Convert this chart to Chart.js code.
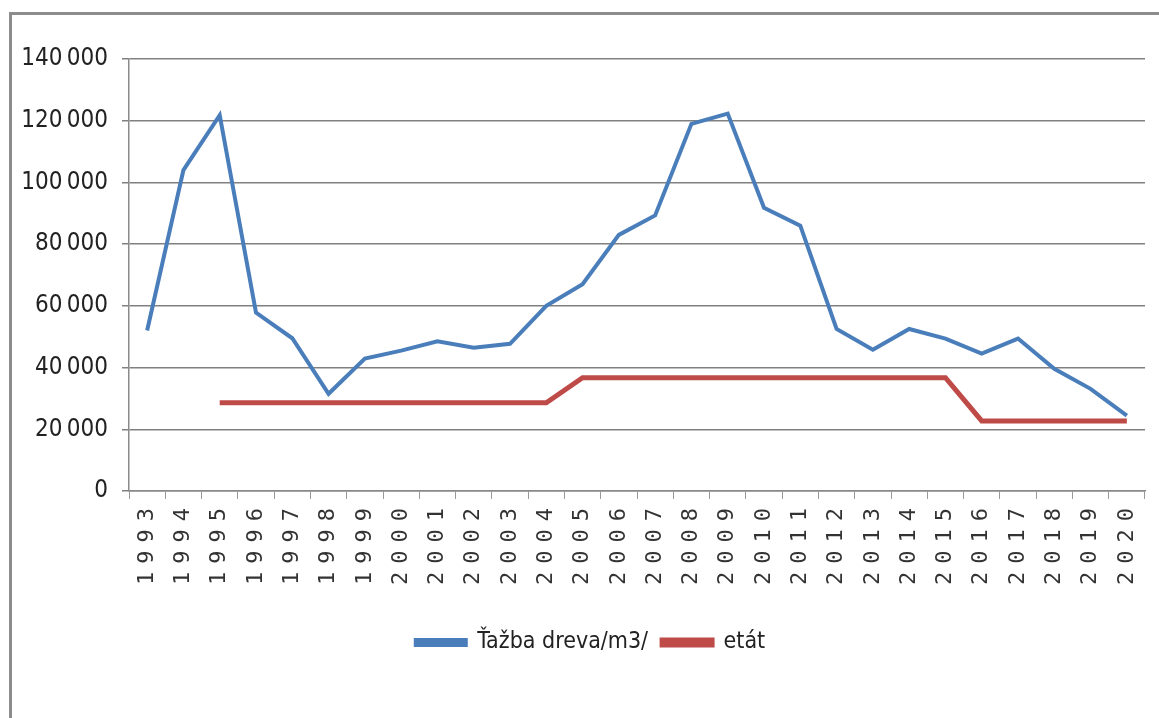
<!DOCTYPE html>
<html>
<head>
<meta charset="utf-8">
<script src="https://cdn.jsdelivr.net/npm/chart.js@4/dist/chart.umd.min.js"></script>
<style>
  html, body { margin: 0; padding: 0; background: #ffffff; overflow: hidden; }
  #frame { position: absolute; left: 9px; top: 12px; width: 1300px; height: 900px; border: 3px solid #8c8c8c; }
  #wrap { position: absolute; left: 0; top: 0; width: 1159px; height: 718px; }
</style>
</head>
<body>
<div id="frame"></div>
<div id="wrap"><canvas id="c" width="1159" height="718"></canvas></div>
<script>
const years = ['1993','1994','1995','1996','1997','1998','1999','2000','2001','2002','2003','2004','2005','2006','2007','2008','2009','2010','2011','2012','2013','2014','2015','2016','2017','2018','2019','2020'];
const tazbaDreva = [52000,104000,121800,57800,49500,31500,42900,45500,48500,46400,47700,60000,67000,83000,89300,119000,122300,91800,86000,52500,45800,52500,49400,44500,49400,39600,33100,24400];
const etat = [null,null,28600,28600,28600,28600,28600,28600,28600,28600,28600,28600,36700,36700,36700,36700,36700,36700,36700,36700,36700,36700,36700,22700,22700,22700,22700,22700];
const seriesNames = ['Ťažba dreva/m3/', 'etát'];
const yTicks = [0,20000,40000,60000,80000,100000,120000,140000];

const narrow = "'Liberation Sans Narrow', 'DejaVu Sans Condensed', 'Liberation Sans', sans-serif";

const spacingPlugin = {
  id: 'xLetterSpacing',
  afterLayout(chart) {
    const sy = chart.scales.y;
    sy._computeLabelArea = function() { return undefined; };
    const sx = chart.scales.x;
    if (sx._spaced) return;
    sx._spaced = true;
    const orig = sx.drawLabels.bind(sx);
    sx.drawLabels = function(area) {
      const ctx = chart.ctx;
      ctx.save();
      try { ctx.letterSpacing = '8px'; } catch (e) {}
      orig(area);
      ctx.restore();
    };
  }
};

new Chart(document.getElementById('c'), {
  type: 'line',
  data: {
    labels: years,
    datasets: [
      { label: seriesNames[0], data: tazbaDreva, borderColor: '#4a7ebb', backgroundColor: '#4a7ebb', borderWidth: 4, pointRadius: 0, tension: 0, spanGaps: false },
      { label: seriesNames[1], data: etat, borderColor: '#be4b48', backgroundColor: '#be4b48', borderWidth: 5, pointRadius: 0, tension: 0, spanGaps: false }
    ]
  },
  options: {
    responsive: false,
    animation: false,
    devicePixelRatio: 1,
    layout: { padding: { left: 36, right: 14, top: 59, bottom: 54 } },
    plugins: {
      legend: {
        position: 'bottom',
        labels: {
          boxWidth: 50, boxHeight: 5,
          font: { family: narrow, size: 23 },
          color: '#222222',
          padding: 14
        }
      },
      tooltip: { enabled: false }
    },
    scales: {
      x: {
        type: 'category',
        offset: true,
        afterFit(scale) { scale.height = 126; },
        grid: { offset: true, drawOnChartArea: false, drawTicks: true, tickLength: 8, color: '#9a9a9a', lineWidth: 1 },
        border: { display: true, color: '#8a8a8a', width: 1.5 },
        ticks: {
          autoSkip: false, minRotation: 90, maxRotation: 90, padding: 1,
          font: { family: "'DejaVu Sans Mono', 'Liberation Mono', monospace", size: 22 },
          color: '#333333'
        }
      },
      y: {
        min: 0, max: 140000,
        afterFit(scale) { scale.width = 93; },
        afterBuildTicks(scale) { scale.ticks = yTicks.map(v => ({ value: v })); },
        grid: { drawTicks: true, tickLength: 7, color: '#808080', lineWidth: 1.5 },
        border: { display: true, color: '#8a8a8a', width: 1.5 },
        ticks: {
          padding: 14,
          font: { family: narrow, size: 24 },
          color: '#222222',
          callback(v) { return v === 0 ? '0' : String(v).replace(/\B(?=(\d{3})+(?!\d))/g, '\u2009'); }
        }
      }
    }
  },
  plugins: [spacingPlugin]
});
</script>
</body>
</html>
